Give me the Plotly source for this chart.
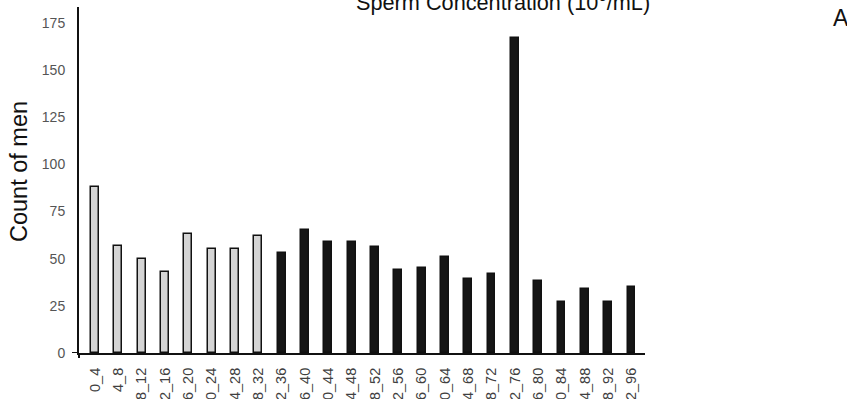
import plotly.graph_objects as go

categories = ["0_4", "4_8", "8_12", "12_16", "16_20", "20_24", "24_28", "28_32",
              "32_36", "36_40", "40_44", "44_48", "48_52", "52_56", "56_60", "60_64",
              "64_68", "68_72", "72_76", "76_80", "80_84", "84_88", "88_92", "92_96"]
counts = [88, 57, 50, 43, 63, 55, 55, 62,
          53, 65, 59, 59, 56, 44, 45, 51,
          39, 42, 167, 38, 27, 34, 27, 35]
low_group_n = 8  # first bins shown in light grey
y_ticks = [0, 25, 50, 75, 100, 125, 150, 175]

fill = ["#d4d4d4" if i < low_group_n else "#161616" for i in range(len(categories))]

fig = go.Figure()
fig.add_trace(go.Bar(
    x=list(range(len(categories))), y=counts,
    marker=dict(color=fill, line=dict(color="#111111", width=1.5)),
    width=0.34,
))

W, H = 847, 399
L, R, T, B = 79, 645, 7, 353
pw, ph = R - L, B - T

fig.update_layout(
    width=W, height=H,
    margin=dict(l=L, r=W - R, t=T, b=H - B, autoexpand=False),
    paper_bgcolor="white", plot_bgcolor="white",
    showlegend=False,
    font=dict(family="Liberation Sans, Arial, sans-serif"),
    bargap=0,
)
fig.update_xaxes(
    tickmode="array", tickvals=list(range(len(categories))), ticktext=categories,
    tickangle=-90, range=[-0.686, 23.58], automargin=False,
    showline=True, linecolor="#111111", linewidth=2,
    showgrid=False, zeroline=False, ticks="outside", ticklen=7,
    tickcolor="rgba(0,0,0,0)",
    tickfont=dict(size=14.5, color="#404040"),
)
fig.update_yaxes(
    tickmode="array", tickvals=y_ticks, range=[0, 183.5], automargin=False,
    showline=True, linecolor="#111111", linewidth=2,
    showgrid=False, zeroline=False, ticks="outside", ticklen=9,
    tickcolor="rgba(0,0,0,0)",
    tickfont=dict(size=14, color="#555555"),
)
# crossing extensions of the axes
fig.add_shape(type="line", xref="paper", yref="y", x0=-7 / pw, x1=0, y0=0, y1=0,
              line=dict(color="#111111", width=2))
fig.add_shape(type="line", xref="paper", yref="paper", x0=0, x1=0, y0=-5 / ph, y1=0,
              line=dict(color="#111111", width=2))

fig.add_annotation(text="Count of men", xref="paper", yref="paper",
                   x=(19 - L) / pw, y=(B - 172) / ph, xanchor="center", yanchor="middle",
                   textangle=-90, showarrow=False,
                   font=dict(size=23.5, color="#111111"))
fig.add_annotation(text="Sperm Concentration (10<sup>6</sup>/mL)", xref="paper", yref="paper",
                   x=(503 - L) / pw, y=1, xanchor="center", yanchor="bottom", yshift=-10,
                   showarrow=False, font=dict(size=21.7, color="#111111"))
fig.add_annotation(text="A", xref="paper", yref="paper",
                   x=(841 - L) / pw, y=1, xanchor="center", yanchor="top", yshift=4,
                   showarrow=False, font=dict(size=23, color="#111111"))

fig.write_html("out.html", config={"displayModeBar": False},
               post_script="document.body.style.margin='0';document.body.style.overflow='hidden';")
